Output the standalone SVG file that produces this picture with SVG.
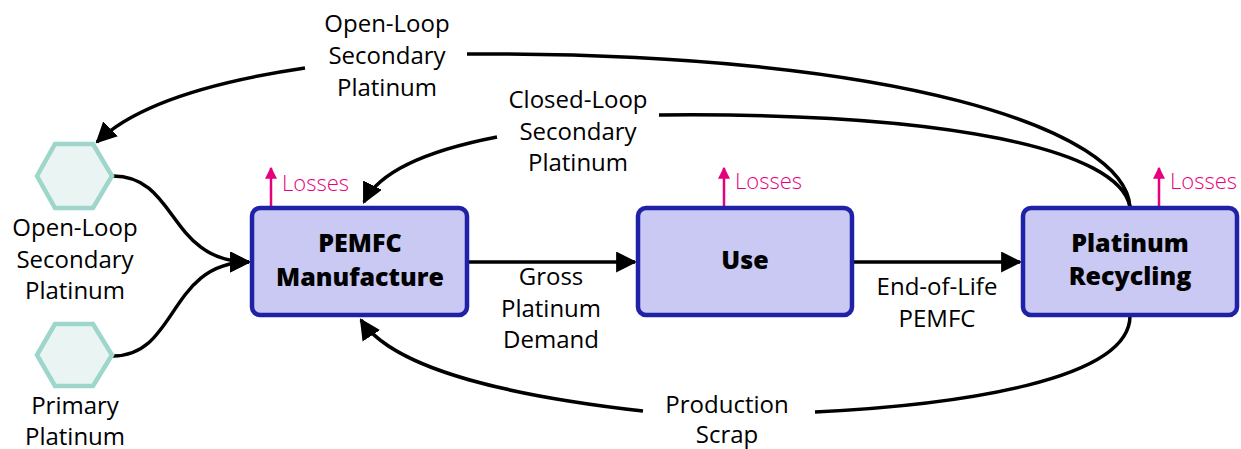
<svg xmlns="http://www.w3.org/2000/svg" width="1241" height="449" viewBox="0 0 1241 449">
  <style>
    .box { fill: #c9c9f3; stroke: #1f22a6; stroke-width: 4.5; }
    .hex { fill: #eaf5f3; stroke: #9ed6cb; stroke-width: 4.5; }
    .title { font-family: "Open Sans", "Liberation Sans", sans-serif; font-weight: 800; font-size: 25px; fill: #000; text-anchor: middle; }
    .lbl { font-family: "Open Sans", "Liberation Sans", sans-serif; font-size: 24px; fill: #000; text-anchor: middle; }
    .loss { font-family: "Open Sans", "Liberation Sans", sans-serif; font-size: 22px; font-weight: 300; fill: #e6007e; }
    .flow { fill: none; stroke: #000; stroke-width: 3.5; marker-end: url(#arrow); }
    .lossflow { fill: none; stroke: #e6007e; stroke-width: 2.5; marker-end: url(#arrowLoss); }
  </style>
  <defs>
    <marker id="arrow" markerUnits="userSpaceOnUse" viewBox="0 0 10 10" refX="9" refY="5" markerWidth="21" markerHeight="21" orient="auto">
      <path d="M0,0 L10,5 L0,10 Z" fill="#000"/>
    </marker>
    <marker id="arrowLoss" markerUnits="userSpaceOnUse" viewBox="0 0 10 10" refX="9" refY="5" markerWidth="12" markerHeight="12" orient="auto">
      <path d="M0,0 L10,5 L0,10 Z" fill="#e6007e"/>
    </marker>
  </defs>

  <!-- flows -->
  <g id="connectors">
    <path class="flow" d="M113,176 C178,176 168,262 249,262"/>
    <path class="flow" d="M113,356 C178,356 168,262 249,262"/>
    <path class="flow" d="M468,262 L635,262"/>
    <path class="flow" d="M853,262 L1020,262"/>
    <!-- open-loop secondary platinum -->
    <path fill="none" stroke="#000" stroke-width="3.5" d="M1130,207 C1125,130 900,52 467,54"/>
    <path class="flow" d="M305,68 C210,82 135,105 97,142"/>
    <!-- closed-loop secondary platinum -->
    <path fill="none" stroke="#000" stroke-width="3.5" d="M1130,207 C1120,150 950,112 659,115"/>
    <path class="flow" d="M497,137 C430,150 380,170 364,202"/>
    <!-- production scrap -->
    <path fill="none" stroke="#000" stroke-width="3.5" d="M1130,316 C1130,380 960,405 815,412"/>
    <path class="flow" d="M643,411 C520,397 395,372 361,320"/>
    <!-- losses -->
    <path class="lossflow" d="M271,207 L271,168"/>
    <path class="lossflow" d="M724,207 L724,168"/>
    <path class="lossflow" d="M1159,207 L1159,168"/>
  </g>

  <g id="loss-labels">
    <text class="loss" x="282" y="191">Losses</text>
    <text class="loss" x="735" y="189">Losses</text>
    <text class="loss" x="1170" y="189">Losses</text>
  </g>

  <g id="flow-labels">
    <text class="lbl"><tspan x="387" y="32">Open-Loop</tspan><tspan x="387" y="64">Secondary</tspan><tspan x="387" y="96">Platinum</tspan></text>
    <text class="lbl"><tspan x="578" y="108">Closed-Loop</tspan><tspan x="578" y="140">Secondary</tspan><tspan x="578" y="171">Platinum</tspan></text>
    <text class="lbl"><tspan x="551" y="285">Gross</tspan><tspan x="551" y="317">Platinum</tspan><tspan x="551" y="348">Demand</tspan></text>
    <text class="lbl"><tspan x="937" y="295">End-of-Life</tspan><tspan x="937" y="327">PEMFC</tspan></text>
    <text class="lbl"><tspan x="727" y="413">Production</tspan><tspan x="727" y="443">Scrap</tspan></text>
  </g>

  <g id="open-loop-source">
    <polygon class="hex" points="37,176 55,144 93,144 112,176 93,208 55,208"/>
    <text class="lbl"><tspan x="75" y="236">Open-Loop</tspan><tspan x="75" y="268">Secondary</tspan><tspan x="75" y="299">Platinum</tspan></text>
  </g>

  <g id="primary-source">
    <polygon class="hex" points="37,355 55,324 93,324 112,355 93,386 55,386"/>
    <text class="lbl"><tspan x="75" y="414">Primary</tspan><tspan x="75" y="445">Platinum</tspan></text>
  </g>

  <g id="manufacture">
    <rect class="box" x="252" y="208" width="215" height="107" rx="8"/>
    <text class="title"><tspan x="360" y="252">PEMFC</tspan><tspan x="360" y="286">Manufacture</tspan></text>
  </g>

  <g id="use">
    <rect class="box" x="638" y="208" width="214" height="107" rx="8"/>
    <text class="title" x="745" y="269">Use</text>
  </g>

  <g id="recycling">
    <rect class="box" x="1023" y="208" width="214" height="107" rx="8"/>
    <text class="title"><tspan x="1130" y="252">Platinum</tspan><tspan x="1130" y="285">Recycling</tspan></text>
  </g>
</svg>
